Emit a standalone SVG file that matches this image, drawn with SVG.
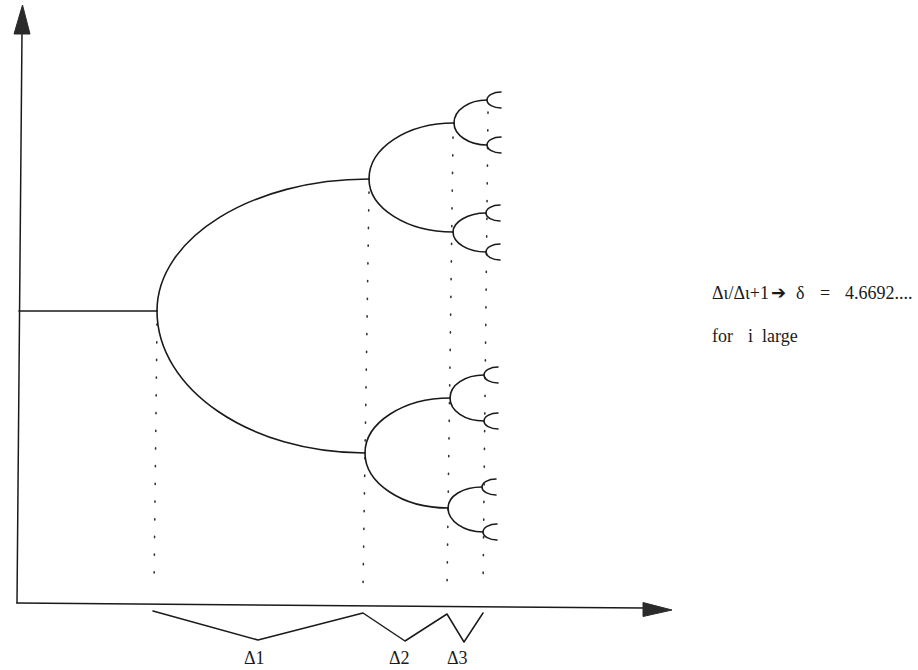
<svg xmlns="http://www.w3.org/2000/svg" width="918" height="670" viewBox="0 0 918 670">
<style>
.ln{fill:none;stroke:#1a1a1a;stroke-width:1.5;stroke-linecap:round;stroke-linejoin:round}
.br{fill:none;stroke:#1a1a1a;stroke-width:1.6;stroke-linecap:round}
.dot{fill:none;stroke:#333;stroke-width:1.6;stroke-dasharray:1.2 16.5;stroke-linecap:round}
.ah{fill:#2a2a2a;stroke:#2a2a2a;stroke-width:1}
.t{font-family:"Liberation Serif","DejaVu Serif",serif;font-size:18px;fill:#1a1a1a}
.ar{font-family:"DejaVu Sans",sans-serif;font-size:18px;fill:#1a1a1a}
</style>
<rect width="918" height="670" fill="#fff"/>
<g id="axes">
<line class="ln" x1="17" y1="603" x2="22" y2="32"/>
<polygon class="ah" points="22.5,5 14,34 30,34"/>
<line class="ln" x1="17" y1="603" x2="644" y2="608"/>
<polygon class="ah" points="672,610 643,602.5 643,616.5"/>
</g>
<g id="guides">
<line class="dot" x1="157" y1="324" x2="154" y2="588"/>
<line class="dot" x1="369" y1="192" x2="363" y2="588"/>
<line class="dot" x1="453" y1="137" x2="447" y2="588"/>
<line class="dot" x1="488" y1="112" x2="483" y2="588"/>
</g>
<g id="tree">
<line class="br" x1="19" y1="311" x2="157" y2="311"/>
<path class="br" d="M157 311C157 238 252 179 369 179"/>
<path class="br" d="M157 311C157 389 250 453 365 453"/>
<path class="br" d="M369 179C369 148 407 123 454 123"/>
<path class="br" d="M369 179C369 208 407 232 453 232"/>
<path class="br" d="M365 453C365 423 403 398 450 398"/>
<path class="br" d="M365 453C365 483 402 508 448 508"/>
<path class="br" d="M454 123C454 110 469 100 487 100"/>
<path class="br" d="M454 123C454 135 469 145 487 145"/>
<path class="br" d="M453 232C453 222 468 213 486 213"/>
<path class="br" d="M453 232C453 243 468 252 486 252"/>
<path class="br" d="M450 398C450 385 465 375 484 375"/>
<path class="br" d="M450 398C450 411 465 421 484 421"/>
<path class="br" d="M448 508C448 496 463 487 482 487"/>
<path class="br" d="M448 508C448 521 464 532 483 532"/>
<path class="br" d="M487 100c0-4.4 6.3-8 14-8M487 100c0 4.4 6.3 8 14 8"/>
<path class="br" d="M487 145c0-4.4 6.3-8 14-8M487 145c0 4.4 6.3 8 14 8"/>
<path class="br" d="M486 213c0-4.4 6.3-8 14-8M486 213c0 4.4 6.3 8 14 8"/>
<path class="br" d="M486 252c0-4.4 6.3-8 14-8M486 252c0 4.4 6.3 8 14 8"/>
<path class="br" d="M484 375c0-4.4 6.3-8 14-8M484 375c0 4.4 6.3 8 14 8"/>
<path class="br" d="M484 421c0-4.4 6.3-8 14-8M484 421c0 4.4 6.3 8 14 8"/>
<path class="br" d="M482 487c0-4.4 6.3-8 14-8M482 487c0 4.4 6.3 8 14 8"/>
<path class="br" d="M483 532c0-4.4 6.3-8 14-8M483 532c0 4.4 6.3 8 14 8"/>
</g>
<g id="brackets">
<polyline class="ln" points="153,611 258,640 363,613 405,641 447,614 464,642 483,613"/>
<text class="t" x="244" y="664">Δ1</text>
<text class="t" x="389" y="664">Δ2</text>
<text class="t" x="447" y="664">Δ3</text>
</g>
<g id="formula">
<text class="t" y="299"><tspan x="712">Δι/Δι+1</tspan><tspan class="ar" x="771">➔</tspan><tspan x="796">δ</tspan><tspan x="820">=</tspan><tspan x="845">4.6692....</tspan></text>
<text class="t" y="342"><tspan x="712">for</tspan><tspan x="748">i</tspan><tspan x="762">large</tspan></text>
</g>
</svg>
